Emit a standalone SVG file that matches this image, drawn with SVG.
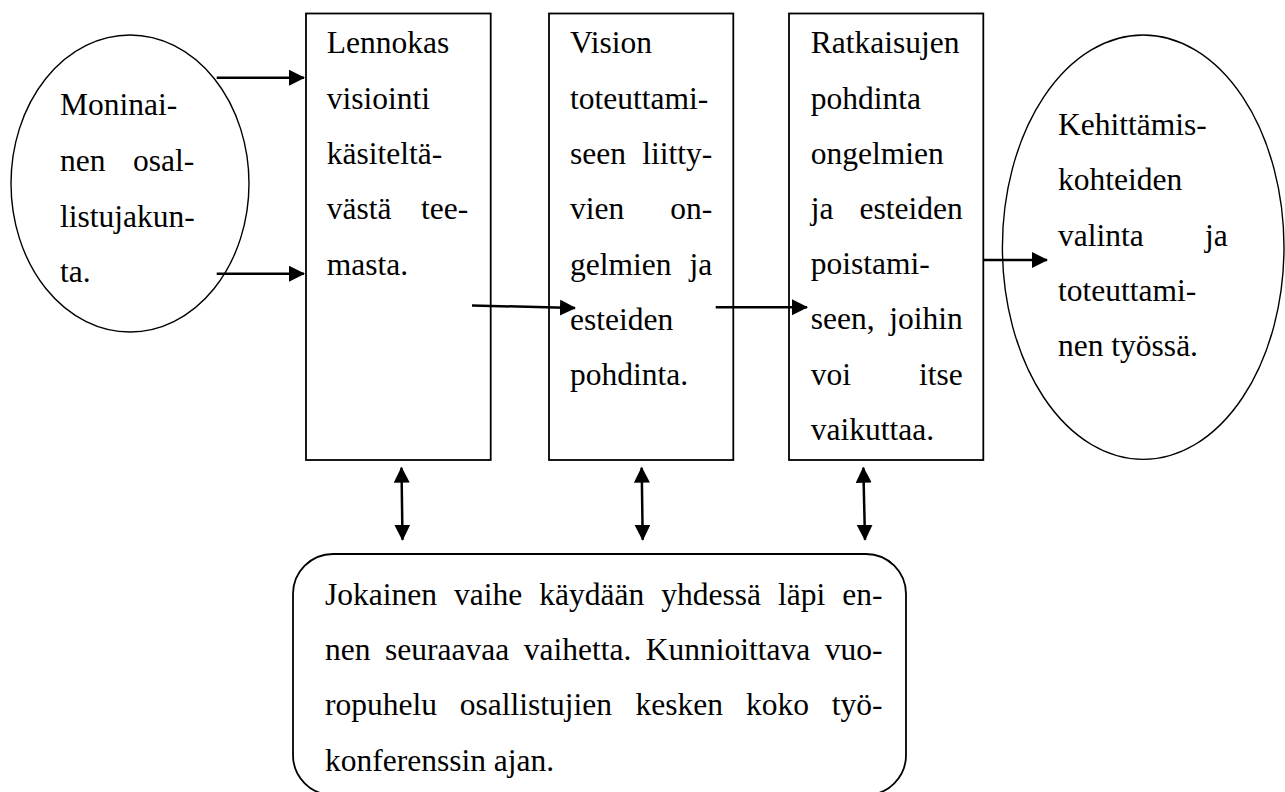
<svg xmlns="http://www.w3.org/2000/svg" width="1285" height="792" viewBox="0 0 1285 792">
<style>
.shape{fill:#fff;stroke:#000;stroke-width:1.8}
.ell{fill:#fff;stroke:#000;stroke-width:1.4}
.t{font-family:"Liberation Serif","Times New Roman",serif;font-size:31.5px;fill:#000}
.c{stroke:#000;stroke-width:2.5;fill:none}
</style>
<defs>
<marker id="ah" markerUnits="userSpaceOnUse" markerWidth="17" markerHeight="17" refX="15" refY="8" orient="auto-start-reverse" viewBox="0 0 17 17">
<path d="M0,0 L16,8 L0,16 z" fill="#000"/>
</marker>
</defs>
<rect width="1285" height="792" fill="#fff"/>

<g id="node-osallistujat">
<ellipse class="ell" cx="130" cy="183.5" rx="119" ry="148.5"/>
<text class="t" x="60" y="115">Moninai-</text>
<text class="t" y="170.7"><tspan x="60">nen</tspan><tspan x="194.3" text-anchor="end">osal-</tspan></text>
<text class="t" x="60" y="226.5">listujakun-</text>
<text class="t" x="60" y="281.5">ta.</text>
</g>

<g id="node-visiointi">
<rect class="shape" x="306" y="13.5" width="184.7" height="446.5"/>
<text class="t" x="326.7" y="53.3">Lennokas</text>
<text class="t" x="326.7" y="108.6">visiointi</text>
<text class="t" x="326.7" y="163.9">käsiteltä-</text>
<text class="t" y="219.2"><tspan x="326.7">västä</tspan><tspan x="468.3" text-anchor="end">tee-</tspan></text>
<text class="t" x="326.7" y="274.5">masta.</text>
</g>

<g id="node-ongelmat">
<rect class="shape" x="549" y="13.5" width="184.3" height="446.5"/>
<text class="t" x="570" y="53.3">Vision</text>
<text class="t" x="570" y="108.6">toteuttami-</text>
<text class="t" y="163.9"><tspan x="570">seen</tspan><tspan x="712.3" text-anchor="end">liitty-</tspan></text>
<text class="t" y="219.2"><tspan x="570">vien</tspan><tspan x="712.3" text-anchor="end">on-</tspan></text>
<text class="t" y="274.5"><tspan x="570">gelmien</tspan><tspan x="712.3" text-anchor="end">ja</tspan></text>
<text class="t" x="570" y="329.8">esteiden</text>
<text class="t" x="570" y="385.1">pohdinta.</text>
</g>

<g id="node-ratkaisut">
<rect class="shape" x="789" y="13.5" width="194.3" height="446.5"/>
<text class="t" x="810.7" y="53.3">Ratkaisujen</text>
<text class="t" x="810.7" y="108.5">pohdinta</text>
<text class="t" x="810.7" y="163.7">ongelmien</text>
<text class="t" y="218.9"><tspan x="810.7">ja</tspan><tspan x="962.7" text-anchor="end">esteiden</tspan></text>
<text class="t" x="810.7" y="274.1">poistami-</text>
<text class="t" y="329.3"><tspan x="810.7">seen,</tspan><tspan x="962.7" text-anchor="end">joihin</tspan></text>
<text class="t" y="384.5"><tspan x="810.7">voi</tspan><tspan x="962.7" text-anchor="end">itse</tspan></text>
<text class="t" x="810.7" y="439.7">vaikuttaa.</text>
</g>

<g id="node-kehittamiskohteet">
<ellipse class="ell" cx="1143.2" cy="247.2" rx="140.8" ry="212.2"/>
<text class="t" x="1058" y="135">Kehittämis-</text>
<text class="t" x="1058" y="190.3">kohteiden</text>
<text class="t" y="245.6"><tspan x="1058">valinta</tspan><tspan x="1227.7" text-anchor="end">ja</tspan></text>
<text class="t" x="1058" y="300.9">toteuttami-</text>
<text class="t" x="1058" y="356.2">nen työssä.</text>
</g>

<g id="node-vuoropuhelu">
<rect class="shape" x="293" y="554" width="613" height="241" rx="40" ry="40"/>
<text class="t" y="605"><tspan x="325">Jokainen</tspan><tspan x="454">vaihe</tspan><tspan x="539.3">käydään</tspan><tspan x="661.2">yhdessä</tspan><tspan x="778">läpi</tspan><tspan x="882.5" text-anchor="end">en-</tspan></text>
<text class="t" y="660.2"><tspan x="325">nen</tspan><tspan x="385">seuraavaa</tspan><tspan x="523.7">vaihetta.</tspan><tspan x="645.8">Kunnioittava</tspan><tspan x="882.5" text-anchor="end">vuo-</tspan></text>
<text class="t" y="715.4"><tspan x="325">ropuhelu</tspan><tspan x="459.8">osallistujien</tspan><tspan x="635.6">kesken</tspan><tspan x="745.9">koko</tspan><tspan x="882.5" text-anchor="end">työ-</tspan></text>
<text class="t" x="325" y="770.6">konferenssin ajan.</text>
</g>

<g id="connectors">
<line class="c" x1="216.7" y1="77.7" x2="304" y2="77.7" marker-end="url(#ah)"/>
<line class="c" x1="216.7" y1="273.7" x2="304" y2="273.7" marker-end="url(#ah)"/>
<line class="c" x1="472" y1="305.5" x2="575" y2="308" marker-end="url(#ah)"/>
<line class="c" x1="715.7" y1="307.3" x2="807" y2="307.3" marker-end="url(#ah)"/>
<line class="c" x1="983.3" y1="260" x2="1047" y2="260" marker-end="url(#ah)"/>
<line class="c" x1="401.5" y1="467.7" x2="402.5" y2="539.7" marker-start="url(#ah)" marker-end="url(#ah)"/>
<line class="c" x1="641.7" y1="467.7" x2="642.7" y2="539.7" marker-start="url(#ah)" marker-end="url(#ah)"/>
<line class="c" x1="863.3" y1="467.7" x2="865" y2="539.7" marker-start="url(#ah)" marker-end="url(#ah)"/>
</g>
</svg>
